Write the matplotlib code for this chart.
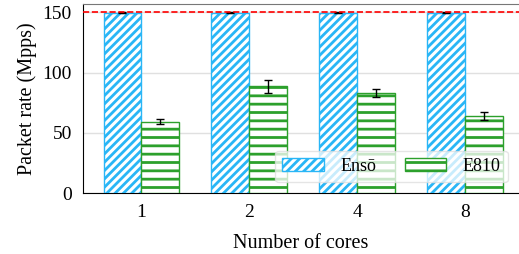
import numpy as np
import matplotlib
matplotlib.use('Agg')
import matplotlib.pyplot as plt

plt.rcParams['font.family'] = ['Liberation Serif', 'DejaVu Serif']
plt.rcParams['hatch.linewidth'] = 2.0

# Data
cores = ['1', '2', '4', '8']
enso = [149.5, 149.5, 149.5, 149.5]
enso_err = [0.4, 0.4, 0.4, 0.4]
e810 = [59.3, 88.4, 83.0, 64.3]
e810_err = [2.0, 5.2, 3.3, 3.3]
line_rate = 150

blue = '#29b6f6'
green = '#2ca02c'

fig = plt.figure(figsize=(5.19, 2.54), dpi=100)
ax = fig.add_axes([0.16, 0.24, 0.84, 0.745])

x = np.arange(len(cores))
w = 0.35
ax.bar(x - w / 2, enso, w, yerr=enso_err, color='white', edgecolor=blue,
       hatch='////', linewidth=1.0, label='Ensō', zorder=3,
       error_kw=dict(ecolor='black', capsize=3, elinewidth=1, capthick=1))
ax.bar(x + w / 2, e810, w, yerr=e810_err, color='white', edgecolor=green,
       hatch='--', linewidth=1.0, label='E810', zorder=3,
       error_kw=dict(ecolor='black', capsize=3, elinewidth=1, capthick=1))

ax.axhline(line_rate, color='red', linestyle='--', linewidth=1.2, zorder=4)

ax.set_xlim(-0.54, 3.5)
ax.set_ylim(0, 157)
ax.set_yticks([0, 50, 100, 150])
ax.set_xticks(x)
ax.set_xticklabels(cores)
ax.tick_params(axis='both', length=0, labelsize=14, pad=8)
ax.yaxis.grid(True, color='#e0e0e0', linewidth=1, zorder=0)
ax.set_axisbelow(True)

ax.spines['top'].set_color('#777777')
ax.spines['right'].set_visible(False)
for s in ['left', 'bottom']:
    ax.spines[s].set_color('black')

ax.set_xlabel('Number of cores', fontsize=14.5, labelpad=9)
ax.set_ylabel('Packet rate (Mpps)', fontsize=14.5)

ax.legend(loc='lower right', ncol=2, fontsize=13, bbox_to_anchor=(0.995, 0.01),
          handlelength=2.3, handletextpad=0.9, columnspacing=1.6,
          framealpha=0.75, edgecolor='#dddddd', fancybox=True, borderpad=0.4)

fig.savefig('out.png', dpi=100)
